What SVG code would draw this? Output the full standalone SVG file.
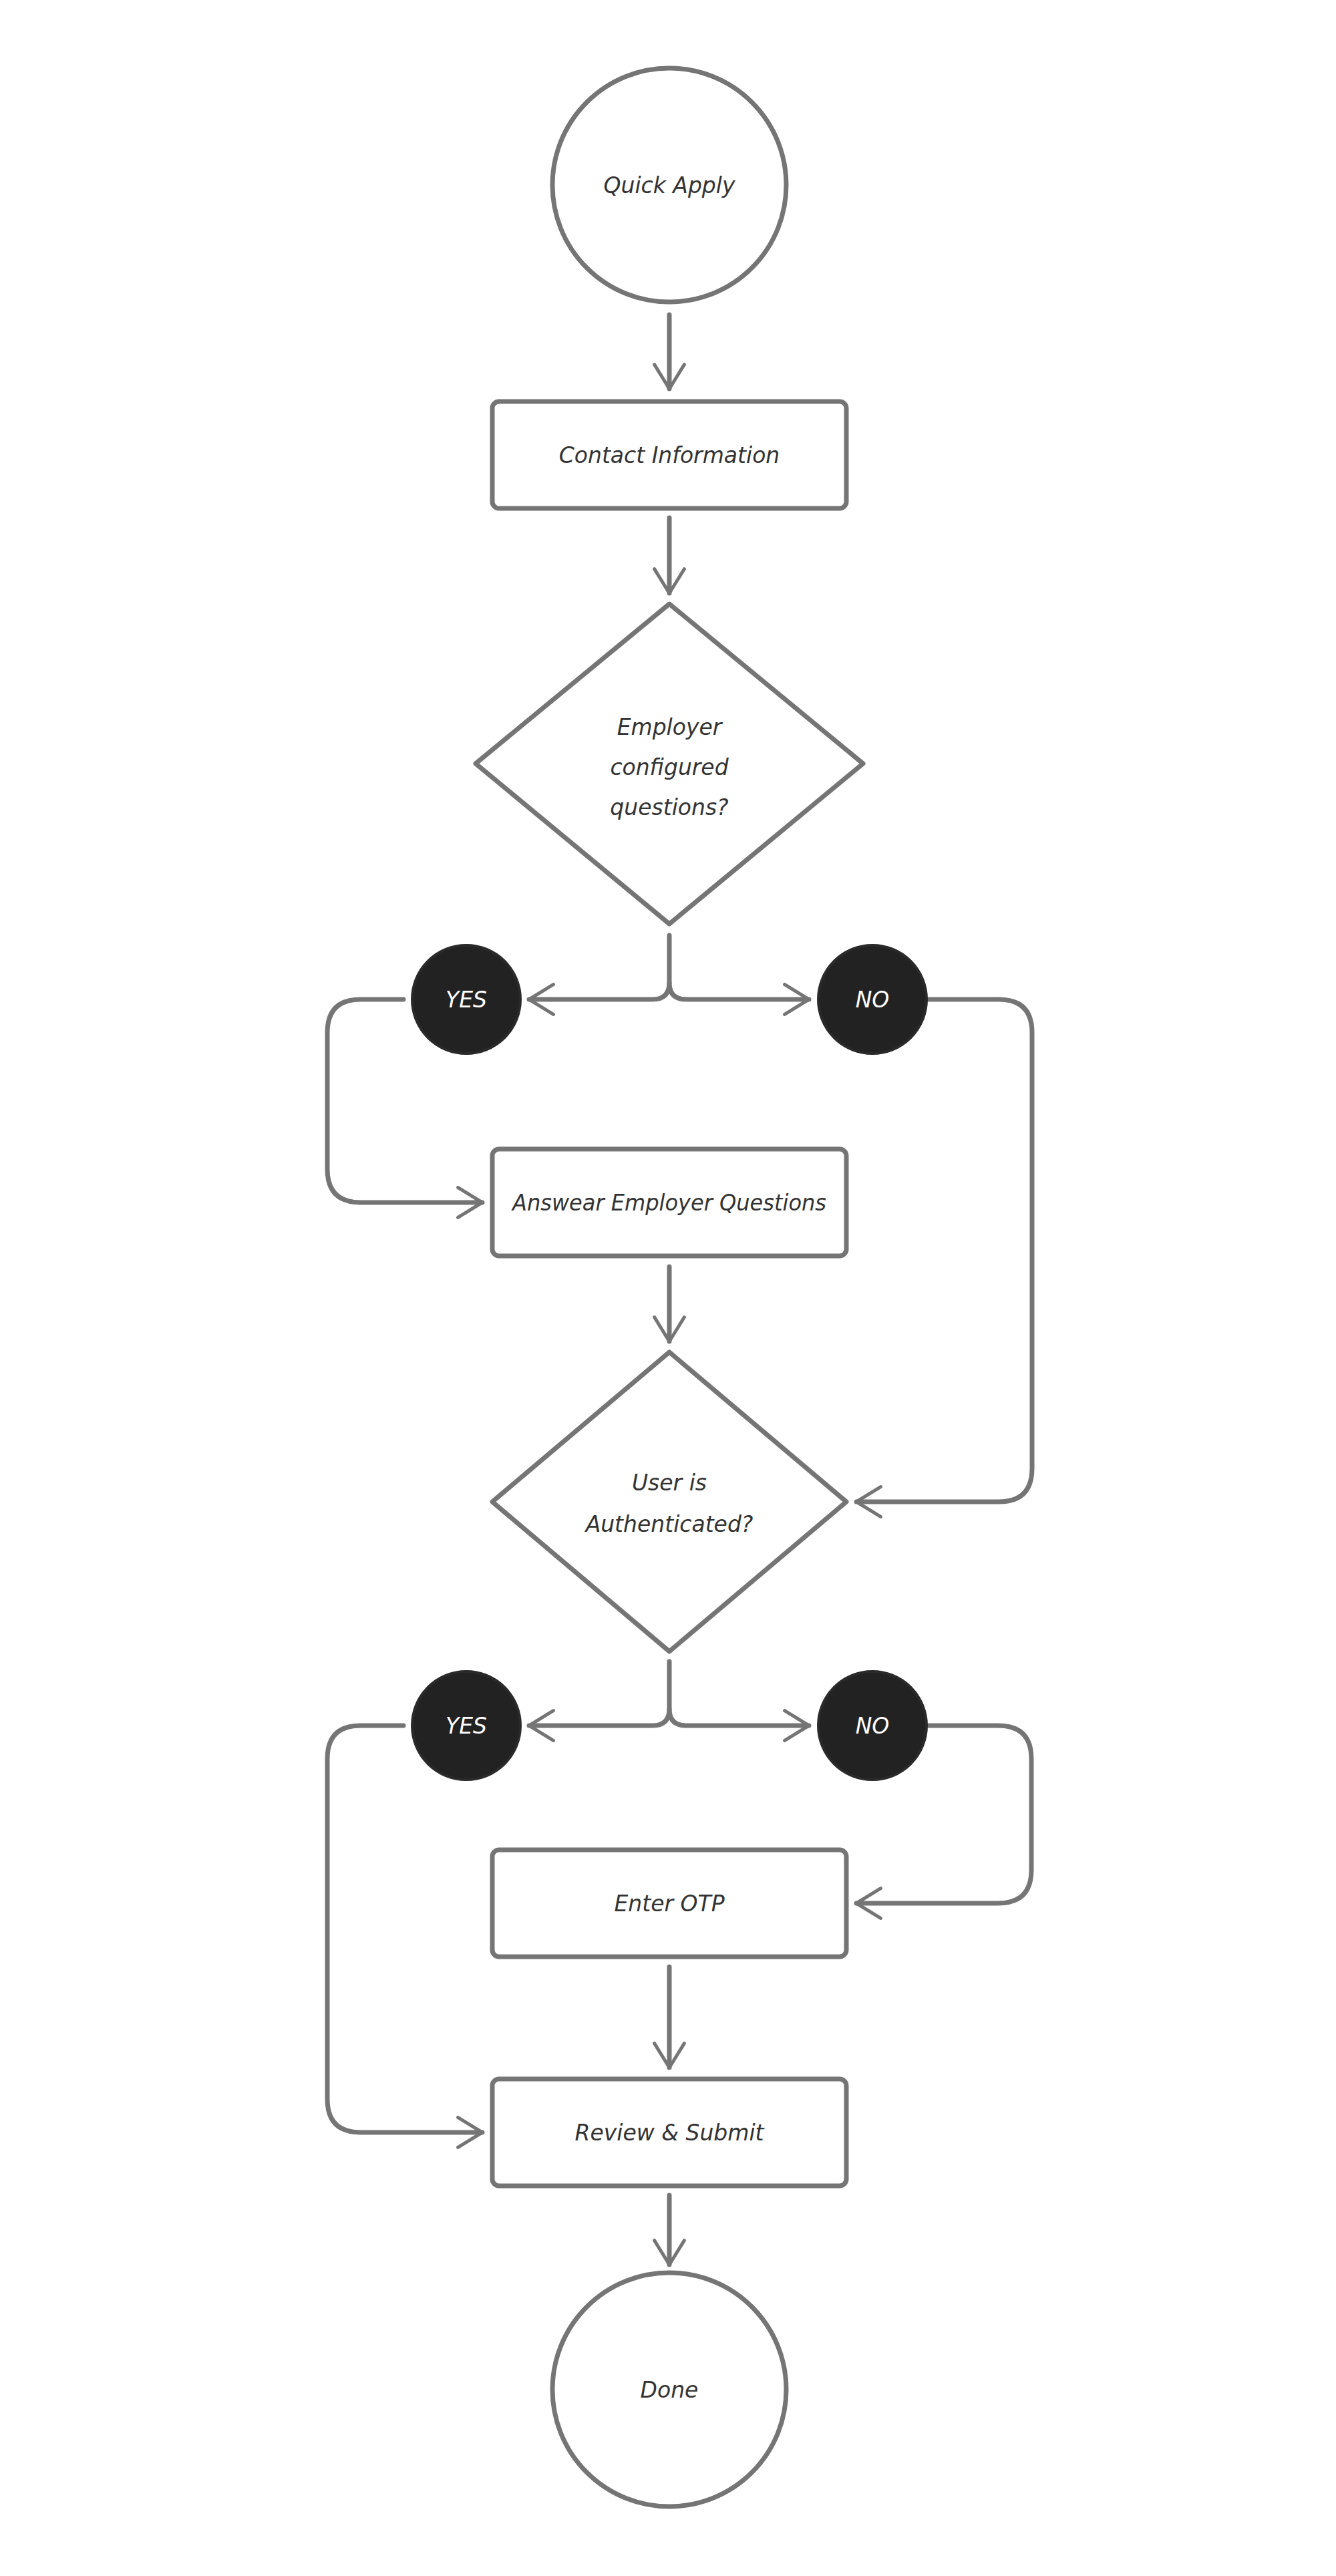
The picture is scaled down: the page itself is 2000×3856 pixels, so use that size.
<svg xmlns="http://www.w3.org/2000/svg" width="2000" height="3856" viewBox="0 0 2000 3856">
<style>
.s{fill:#fff;stroke:#757575;stroke-width:7;stroke-linejoin:round}
.c{fill:none;stroke:#757575;stroke-width:7;stroke-linecap:round;stroke-linejoin:round}
.b{fill:#222;stroke:#2a2a2a;stroke-width:4}
text{font-family:"DejaVu Sans","Liberation Sans",sans-serif;font-style:italic;font-size:33px;fill:#333;text-anchor:middle;dominant-baseline:central}
.w{fill:#fff}
</style>
<defs><marker id="a" viewBox="0 0 20 20" refX="18" refY="10" markerWidth="8" markerHeight="8" markerUnits="strokeWidth" orient="auto"><path d="M5,2 L18,10 L5,18" fill="none" stroke="#757575" stroke-width="1.8" stroke-linecap="round" stroke-linejoin="round"/></marker></defs>
<rect width="2000" height="3856" fill="#fff"/>
<g id="connectors" class="c">
<path d="M1002,471 V582" marker-end="url(#a)"/>
<path d="M1002,775 V888" marker-end="url(#a)"/>
<path d="M1002,1400 V1471 Q1002,1496 977,1496 H792" marker-end="url(#a)"/>
<path d="M1002,1471 Q1002,1496 1027,1496 H1211" marker-end="url(#a)"/>
<path d="M604,1496 H540 Q490,1496 490,1546 V1750 Q490,1800 540,1800 H722" marker-end="url(#a)"/>
<path d="M1390,1496 H1495 Q1545,1496 1545,1546 V2198 Q1545,2248 1495,2248 H1282" marker-end="url(#a)"/>
<path d="M1002,1896 V2008" marker-end="url(#a)"/>
<path d="M1002,2487 V2558 Q1002,2583 977,2583 H792" marker-end="url(#a)"/>
<path d="M1002,2558 Q1002,2583 1027,2583 H1211" marker-end="url(#a)"/>
<path d="M604,2583 H540 Q490,2583 490,2633 V3142 Q490,3192 540,3192 H722" marker-end="url(#a)"/>
<path d="M1390,2583 H1494 Q1544,2583 1544,2633 V2799 Q1544,2849 1494,2849 H1282" marker-end="url(#a)"/>
<path d="M1002,2944 V3095" marker-end="url(#a)"/>
<path d="M1002,3286 V3390" marker-end="url(#a)"/>
</g>
<g id="start"><circle class="s" cx="1002" cy="277" r="175"/><text x="1002" y="277">Quick Apply</text></g>
<g id="contact"><rect class="s" x="737" y="601" width="530" height="160" rx="10"/><text x="1002" y="681">Contact Information</text></g>
<g id="q1"><path class="s" d="M1002,904 L1292,1143 L1002,1383 L712,1143 Z"/><text x="1002" y="1088">Employer</text><text x="1002" y="1148">configured</text><text x="1002" y="1208">questions?</text></g>
<g id="yes1"><circle class="b" cx="698" cy="1496" r="81"/><text class="w" x="698" y="1496">YES</text></g>
<g id="no1"><circle class="b" cx="1306" cy="1496" r="81"/><text class="w" x="1306" y="1496">NO</text></g>
<g id="answer"><rect class="s" x="737" y="1720" width="530" height="160" rx="10"/><text x="1002" y="1800" textLength="470" lengthAdjust="spacingAndGlyphs">Answear Employer Questions</text></g>
<g id="q2"><path class="s" d="M1002,2024 L1267,2248 L1002,2472 L737,2248 Z"/><text x="1002" y="2219">User is</text><text x="1002" y="2281">Authenticated?</text></g>
<g id="yes2"><circle class="b" cx="698" cy="2583" r="81"/><text class="w" x="698" y="2583">YES</text></g>
<g id="no2"><circle class="b" cx="1306" cy="2583" r="81"/><text class="w" x="1306" y="2583">NO</text></g>
<g id="otp"><rect class="s" x="737" y="2769" width="530" height="160" rx="10"/><text x="1002" y="2849">Enter OTP</text></g>
<g id="review"><rect class="s" x="737" y="3112" width="530" height="160" rx="10"/><text x="1002" y="3192">Review &amp; Submit</text></g>
<g id="done"><circle class="s" cx="1002" cy="3577" r="175"/><text x="1002" y="3577">Done</text></g>
</svg>
